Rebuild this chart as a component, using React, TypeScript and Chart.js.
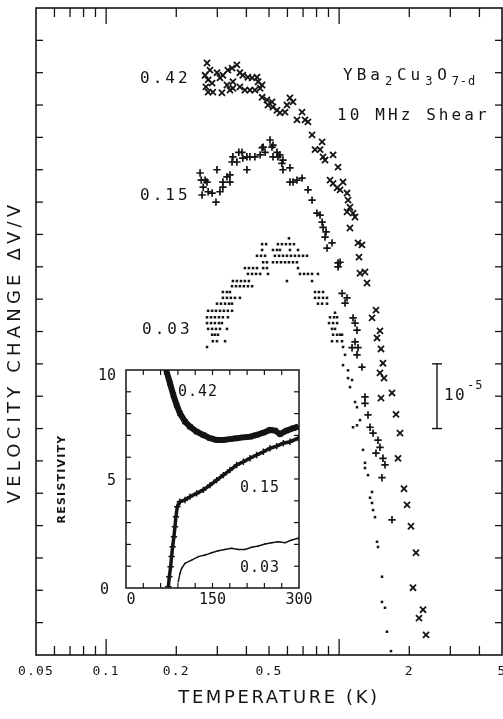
import React, { useEffect, useRef } from 'react';
import { Chart, registerables } from 'chart.js';
Chart.register(...registerables);

const INK = '#141414';
const MONO = '"DejaVu Sans Mono", monospace';
const SANS = '"DejaVu Sans", sans-serif';

// ---- main plot: velocity change (units of 1e-6) vs temperature (K) ----
const series042: [number, number][] = [
  [0.271, 91.5], [0.279, 90.4], [0.266, 89.6], [0.274, 88.9], [0.285, 88.4], [0.268, 87.8], [0.274, 87.0], [0.287, 87.0],
  [0.299, 90.0], [0.308, 89.2], [0.314, 86.9], [0.317, 89.6], [0.330, 88.1], [0.333, 90.4], [0.340, 87.3], [0.347, 90.7],
  [0.350, 88.6], [0.350, 87.6], [0.364, 91.2], [0.375, 90.0], [0.375, 87.8], [0.386, 89.6], [0.394, 87.3], [0.406, 89.3],
  [0.414, 87.3], [0.423, 89.2], [0.435, 87.3], [0.444, 89.3], [0.449, 88.6], [0.458, 87.6], [0.467, 88.1], [0.467, 86.2],
  [0.490, 85.8], [0.495, 85.0], [0.515, 85.5], [0.520, 84.7], [0.541, 84.2], [0.557, 83.8], [0.586, 83.9], [0.597, 85.0],
  [0.615, 86.1], [0.634, 85.5], [0.659, 82.7], [0.693, 83.9], [0.714, 82.7], [0.735, 82.4], [0.765, 80.4], [0.788, 78.1],
  [0.828, 78.1], [0.845, 79.3], [0.853, 77.0], [0.870, 76.5], [0.942, 77.3], [0.989, 75.4], [0.914, 73.4], [0.942, 72.9],
  [0.980, 72.2], [1.009, 71.9], [1.039, 73.1], [1.081, 71.4], [1.092, 70.3], [1.113, 69.2], [1.081, 68.5], [1.147, 68.3],
  [1.170, 67.7], [1.113, 66.0], [1.205, 63.7], [1.253, 63.4], [1.217, 61.5], [1.229, 59.0], [1.291, 59.2], [1.317, 57.5],
  [1.439, 53.3], [1.384, 52.1], [1.497, 50.1], [1.454, 49.0], [1.512, 47.3], [1.542, 45.1], [1.497, 43.6], [1.558, 42.8],
  [1.512, 39.7], [1.686, 40.5], [1.754, 37.2], [1.825, 34.3], [1.789, 30.4], [1.898, 25.7], [1.956, 23.2], [2.034, 19.9],
  [2.137, 15.8], [2.075, 10.4], [2.291, 7.0], [2.202, 5.7], [2.360, 3.1],
];

const series015: [number, number][] = [
  [0.253, 74.5], [0.256, 73.4], [0.261, 72.3], [0.258, 71.1], [0.266, 73.4], [0.271, 73.1], [0.274, 71.6], [0.285, 71.4],
  [0.296, 70.0], [0.299, 75.0], [0.308, 71.6], [0.317, 73.1], [0.317, 72.3], [0.330, 73.9], [0.340, 74.2], [0.340, 73.1],
  [0.347, 76.2], [0.350, 77.0], [0.364, 76.2], [0.371, 77.7], [0.383, 77.7], [0.386, 76.8], [0.402, 75.0], [0.402, 77.0],
  [0.414, 77.0], [0.435, 77.0], [0.458, 77.3], [0.467, 78.4], [0.472, 78.5], [0.481, 77.7], [0.505, 79.6], [0.515, 78.5],
  [0.520, 78.8], [0.520, 77.0], [0.541, 77.7], [0.546, 77.0], [0.557, 77.3], [0.568, 76.0], [0.574, 76.5], [0.574, 75.0],
  [0.615, 75.3], [0.615, 73.1], [0.634, 73.1], [0.659, 73.4], [0.693, 73.7], [0.735, 71.9], [0.765, 70.3], [0.803, 68.3],
  [0.828, 68.0], [0.845, 66.9], [0.853, 66.1], [0.879, 65.4], [0.870, 64.6], [0.932, 63.7], [0.887, 62.9], [0.989, 60.6],
  [1.009, 60.7], [0.989, 60.0], [1.029, 55.9], [1.081, 55.2], [1.060, 54.4], [1.147, 52.1], [1.170, 51.3], [1.193, 50.2],
  [1.170, 48.4], [1.136, 47.5], [1.205, 47.5], [1.193, 46.4], [1.253, 44.5], [1.291, 39.9], [1.291, 38.9], [1.330, 37.1],
  [1.357, 35.2], [1.398, 34.3], [1.468, 33.2], [1.497, 32.1], [1.439, 31.2], [1.542, 30.4], [1.573, 29.4], [1.527, 27.4],
  [1.686, 20.9],
];

const series003: [number, number][] = [
  [0.609, 64.4],
  [0.467, 63.5], [0.486, 63.5], [0.546, 63.5], [0.568, 63.5], [0.591, 63.5], [0.615, 63.5], [0.640, 63.5],
  [0.467, 62.6], [0.520, 62.6], [0.541, 62.6], [0.557, 62.6], [0.615, 62.6], [0.666, 62.6],
  [0.444, 61.7], [0.462, 61.7], [0.481, 61.7], [0.530, 61.7], [0.552, 61.7], [0.574, 61.7], [0.597, 61.7], [0.621, 61.7],
  [0.646, 61.7], [0.672, 61.7], [0.700, 61.7], [0.728, 61.7],
  [0.472, 60.7], [0.490, 60.7], [0.520, 60.7], [0.541, 60.7], [0.563, 60.7], [0.586, 60.7], [0.609, 60.7], [0.634, 60.7], [0.659, 60.7],
  [0.394, 59.8], [0.410, 59.8], [0.427, 59.8], [0.444, 59.8], [0.472, 59.8], [0.490, 59.8], [0.666, 59.8],
  [0.406, 58.9], [0.423, 58.9], [0.440, 58.9], [0.458, 58.9], [0.495, 58.9], [0.679, 58.9], [0.707, 58.9], [0.735, 58.9],
  [0.765, 58.9], [0.811, 58.9],
  [0.350, 57.8], [0.364, 57.8], [0.379, 57.8], [0.394, 57.8], [0.410, 57.8], [0.597, 57.8], [0.765, 57.8],
  [0.347, 57.0], [0.361, 57.0], [0.375, 57.0], [0.390, 57.0], [0.406, 57.0], [0.423, 57.0],
  [0.317, 56.1], [0.330, 56.1], [0.340, 56.1], [0.788, 56.1], [0.819, 56.1], [0.853, 56.1],
  [0.317, 55.2], [0.330, 55.2], [0.343, 55.2], [0.357, 55.2], [0.375, 55.2], [0.788, 55.2], [0.819, 55.2], [0.853, 55.2], [0.887, 55.2],
  [0.299, 54.3], [0.311, 54.3], [0.324, 54.3], [0.337, 54.3], [0.347, 54.3], [0.811, 54.3], [0.845, 54.3], [0.887, 54.3],
  [0.274, 53.2], [0.285, 53.2], [0.296, 53.2], [0.308, 53.2], [0.320, 53.2], [0.333, 53.2], [0.347, 53.2],
  [0.271, 52.2], [0.282, 52.2], [0.293, 52.2], [0.305, 52.2], [0.317, 52.2], [0.333, 52.2], [0.914, 52.2], [0.951, 52.2], [0.980, 52.2],
  [0.271, 51.3], [0.282, 51.3], [0.293, 51.3], [0.305, 51.3], [0.314, 51.3], [0.905, 51.3], [0.942, 51.3], [0.980, 51.3],
  [0.274, 50.4], [0.285, 50.4], [0.296, 50.4], [0.308, 50.4], [0.330, 50.4], [0.932, 50.4], [0.960, 50.4],
  [0.285, 49.5], [0.293, 49.5], [0.302, 49.5], [0.942, 49.5], [0.980, 49.5], [1.029, 49.5],
  [0.287, 48.5], [0.299, 48.5], [0.324, 48.5], [0.932, 48.5], [0.980, 48.5], [1.029, 48.5],
  [0.271, 47.6],
  [0.960, 52.9], [1.009, 49.5], [1.039, 47.6], [1.060, 46.4], [1.039, 44.8], [1.092, 44.0], [1.092, 42.8], [1.136, 42.5],
  [1.113, 41.4], [1.170, 39.1], [1.193, 38.3], [1.229, 36.3], [1.193, 35.5], [1.147, 35.2], [1.266, 31.7], [1.291, 29.7],
  [1.291, 28.9], [1.330, 27.8], [1.384, 25.2], [1.357, 24.3], [1.384, 23.5], [1.398, 22.4], [1.425, 21.3], [1.454, 17.5],
  [1.468, 16.7], [1.527, 12.1], [1.527, 8.2], [1.573, 7.3], [1.604, 3.6], [1.669, 0.6],
];

// ---- inset: resistivity vs temperature (K) ----
const inset042: [number, number][] = [
  [69.0, 10.2], [70.5, 9.92], [76.3, 9.39], [82.1, 8.85], [87.9, 8.39], [93.6, 8.01], [102.3, 7.63], [111.0, 7.40],
  [122.5, 7.17], [134.1, 7.02], [145.7, 6.87], [157.2, 6.79], [168.8, 6.79], [180.3, 6.83], [191.9, 6.87], [203.5, 6.91],
  [215.0, 6.94], [226.6, 7.02], [238.2, 7.12], [249.7, 7.25], [258.4, 7.22], [267.1, 7.06], [278.6, 7.22], [290.2, 7.33],
  [298.9, 7.40],
];
const inset015: [number, number][] = [
  [73.4, 0.06], [75.1, 0.52], [77.4, 0.98], [79.1, 1.44], [80.8, 1.89], [83.1, 2.35], [84.9, 2.81], [86.6, 3.27],
  [88.9, 3.73], [93.5, 3.96], [102.3, 4.04], [111.0, 4.19], [122.5, 4.34], [134.1, 4.50], [145.7, 4.72], [157.2, 4.95],
  [168.8, 5.18], [180.3, 5.41], [191.9, 5.64], [203.5, 5.79], [215.0, 5.95], [226.6, 6.10], [238.2, 6.25], [249.7, 6.41],
  [261.3, 6.51], [272.8, 6.64], [284.4, 6.71], [298.9, 6.87],
];
const inset003: [number, number][] = [
  [90.7, 0.29], [93.6, 0.67], [96.5, 0.90], [102.3, 1.13], [113.8, 1.28], [125.4, 1.44], [137.0, 1.51], [148.5, 1.62],
  [160.1, 1.71], [171.7, 1.77], [183.2, 1.82], [194.8, 1.77], [206.4, 1.77], [217.9, 1.87], [229.5, 1.93], [241.1, 2.02],
  [252.6, 2.08], [264.2, 2.12], [275.8, 2.08], [287.3, 2.20], [298.9, 2.28],
];

// ---- axes / labels ----
const xLabelValues = [0.05, 0.1, 0.2, 0.5, 2, 5];
const xLabelTexts = ['0.05', '0.1', '0.2', '0.5', '2', '5'];
const xMinorTicks = [0.06, 0.07, 0.08, 0.09, 0.2, 0.3, 0.4, 0.5, 0.6, 0.7, 0.8, 0.9, 2, 3, 4];
const xMajorTicks = [0.1, 1];
const yTickValues = [5, 10, 15, 20, 25, 30, 35, 40, 45, 50, 55, 60, 65, 70, 75, 80, 85, 90, 95];
const seriesNames = ['0.42', '0.15', '0.03'];
const scaleBar = { t: 2.63, from: 35, to: 45 };

const insetXTicks = [30, 60, 90, 120, 150, 180, 210, 240, 270];
const insetYTicks = [1, 2, 3, 4, 5, 6, 7, 8, 9];
const insetXLabels = [0, 150, 300];
const insetYLabels = [0, 5, 10];

const xy = (arr: [number, number][]) => arr.map(([x, y]) => ({ x, y }));

function txt(ctx: CanvasRenderingContext2D, s: string, x: number, y: number, font: string,
  align: CanvasTextAlign = 'left', spacing = 0) {
  ctx.font = font;
  ctx.textAlign = align;
  ctx.textBaseline = 'middle';
  (ctx as any).letterSpacing = spacing + 'px';
  ctx.fillText(s, x, y);
  (ctx as any).letterSpacing = '0px';
}
function seg(ctx: CanvasRenderingContext2D, x1: number, y1: number, x2: number, y2: number) {
  ctx.beginPath();
  ctx.moveTo(x1, y1);
  ctx.lineTo(x2, y2);
  ctx.stroke();
}

const mainDecor = {
  id: 'mainDecor',
  afterDatasetsDraw(chart: any) {
    const { ctx, chartArea: a, scales } = chart;
    const x = scales.x, y = scales.y;
    ctx.save();
    ctx.strokeStyle = INK;
    ctx.fillStyle = INK;
    ctx.lineWidth = 1.6;
    ctx.strokeRect(a.left, a.top, a.right - a.left, a.bottom - a.top);
    ctx.lineWidth = 1.3;
    for (const t of xMinorTicks) {
      const p = x.getPixelForValue(t);
      seg(ctx, p, a.bottom, p, a.bottom - 9);
      seg(ctx, p, a.top, p, a.top + 9);
    }
    for (const t of xMajorTicks) {
      const p = x.getPixelForValue(t);
      seg(ctx, p, a.bottom, p, a.bottom - 16);
      seg(ctx, p, a.top, p, a.top + 16);
    }
    for (const v of yTickValues) {
      const p = y.getPixelForValue(v);
      seg(ctx, a.left, p, a.left + 7, p);
      seg(ctx, a.right, p, a.right - 7, p);
    }
    // x tick labels
    xLabelValues.forEach((v, i) => {
      txt(ctx, xLabelTexts[i], x.getPixelForValue(v), a.bottom + 17, '13px ' + MONO, 'center', 1.2);
    });
    // axis titles
    txt(ctx, 'TEMPERATURE (K)', 279, a.bottom + 43, '18px ' + SANS, 'center', 2.6);
    ctx.save();
    ctx.translate(15, 352);
    ctx.rotate(-Math.PI / 2);
    txt(ctx, 'VELOCITY CHANGE \u0394V/V', 0, 0, '18px ' + SANS, 'center', 4.2);
    ctx.restore();
    // series labels
    const lab = '16px ' + MONO;
    txt(ctx, seriesNames[0], 140, y.getPixelForValue(89), lab, 'left', 3);
    txt(ctx, seriesNames[1], 140, y.getPixelForValue(71), lab, 'left', 3);
    txt(ctx, seriesNames[2], 142, y.getPixelForValue(50.2), lab, 'left', 3);
    // compound
    let cx = 343;
    const cy = 76;
    const parts: [string, boolean][] = [['YBa', false], ['2', true], ['Cu', false], ['3', true], ['O', false], ['7-d', true]];
    for (const [s, sub] of parts) {
      const f = sub ? '12px ' + MONO : '16px ' + MONO;
      const sp = sub ? 0.8 : 4;
      ctx.font = f;
      (ctx as any).letterSpacing = sp + 'px';
      const w = ctx.measureText(s).width;
      txt(ctx, s, cx + (sub ? 1 : 0), sub ? cy + 6 : cy, f, 'left', sp);
      cx += w + (sub ? 5 : 0);
    }
    txt(ctx, '10 MHz Shear', 337, 116, lab, 'left', 3.1);
    // scale bar
    const bx = x.getPixelForValue(scaleBar.t);
    const b1 = y.getPixelForValue(scaleBar.from), b2 = y.getPixelForValue(scaleBar.to);
    ctx.lineWidth = 1.4;
    seg(ctx, bx, b1, bx, b2);
    seg(ctx, bx - 5, b1, bx + 5, b1);
    seg(ctx, bx - 5, b2, bx + 5, b2);
    txt(ctx, '10', bx + 7, (b1 + b2) / 2, lab, 'left', 1.5);
    txt(ctx, '-5', bx + 30, (b1 + b2) / 2 - 10, '12px ' + MONO, 'left', 1);
    ctx.restore();
  },
};

const insetDecor = {
  id: 'insetDecor',
  beforeDatasetsDraw(chart: any) {
    const { ctx, chartArea: a } = chart;
    ctx.save();
    ctx.fillStyle = '#ffffff';
    ctx.fillRect(a.left, a.top, a.right - a.left, a.bottom - a.top);
    ctx.restore();
  },
  afterDatasetsDraw(chart: any) {
    const { ctx, chartArea: a, scales } = chart;
    const x = scales.x, y = scales.y;
    ctx.save();
    ctx.strokeStyle = INK;
    ctx.fillStyle = INK;
    ctx.lineWidth = 1.5;
    ctx.strokeRect(a.left, a.top, a.right - a.left, a.bottom - a.top);
    ctx.lineWidth = 1.2;
    for (const t of insetXTicks) {
      const p = x.getPixelForValue(t);
      seg(ctx, p, a.bottom, p, a.bottom - 5);
      seg(ctx, p, a.top, p, a.top + 5);
    }
    for (const v of insetYTicks) {
      const p = y.getPixelForValue(v);
      seg(ctx, a.left, p, a.left + 5, p);
      seg(ctx, a.right, p, a.right - 5, p);
    }
    const f = '15px ' + MONO;
    insetXLabels.forEach((v) => {
      const p = x.getPixelForValue(v);
      txt(ctx, String(v), v === 0 ? p + 5 : p, a.bottom + 12, f, 'center', 0);
    });
    insetYLabels.forEach((v) => {
      const p = y.getPixelForValue(v);
      const dy = v === 10 ? 6 : 2;
      txt(ctx, String(v), v === 0 ? a.left - 17 : a.left - 10, p + dy, f, 'right', 0);
    });
    ctx.save();
    ctx.translate(22, (a.top + a.bottom) / 2);
    ctx.rotate(-Math.PI / 2);
    txt(ctx, 'RESISTIVITY', 0, 0, 'bold 11px ' + SANS, 'center', 1.2);
    ctx.restore();
    txt(ctx, seriesNames[0], a.left + 52, y.getPixelForValue(9.0), f, 'left', 1);
    txt(ctx, seriesNames[1], a.left + 114, y.getPixelForValue(4.6), f, 'left', 1);
    txt(ctx, seriesNames[2], a.left + 114, y.getPixelForValue(0.9), f, 'left', 1);
    ctx.restore();
  },
};

export default function App() {
  const mainRef = useRef<HTMLCanvasElement>(null);
  const insetRef = useRef<HTMLCanvasElement>(null);

  useEffect(() => {
    const common = {
      responsive: false,
      animation: false as const,
      devicePixelRatio: 1,
      events: [] as any[],
      plugins: { legend: { display: false }, tooltip: { enabled: false } },
    };
    const main = new Chart(mainRef.current!, {
      type: 'scatter',
      data: {
        datasets: [
          { label: seriesNames[0], data: xy(series042), pointStyle: 'crossRot', pointRadius: 4.3, borderColor: INK, backgroundColor: INK, borderWidth: 1.8 },
          { label: seriesNames[1], data: xy(series015), pointStyle: 'cross', pointRadius: 3.7, borderColor: INK, backgroundColor: INK, borderWidth: 1.7 },
          { label: seriesNames[2], data: xy(series003), pointStyle: 'rect', pointRadius: 1.8, borderColor: INK, backgroundColor: INK, borderWidth: 0 },
        ],
      },
      options: {
        ...common,
        layout: { autoPadding: false, padding: { left: 36, top: 8, right: 1, bottom: 64 } },
        scales: {
          x: { type: 'logarithmic', min: 0.05, max: 5, display: false },
          y: { type: 'linear', min: 0, max: 100, display: false },
        },
      },
      plugins: [mainDecor],
    } as any);

    const inset = new Chart(insetRef.current!, {
      type: 'scatter',
      data: {
        datasets: [
          { label: seriesNames[0], data: xy(inset042), showLine: true, borderColor: INK, backgroundColor: INK, borderWidth: 6, pointStyle: 'crossRot', pointRadius: 3.5, pointBorderWidth: 1.5 },
          { label: seriesNames[1], data: xy(inset015), showLine: true, borderColor: INK, backgroundColor: INK, borderWidth: 3.5, pointStyle: 'cross', pointRadius: 3.2, pointBorderWidth: 1.5 },
          { label: seriesNames[2], data: xy(inset003), showLine: true, borderColor: INK, backgroundColor: INK, borderWidth: 1.5, pointStyle: 'rect', pointRadius: 1, pointBorderWidth: 0 },
        ],
      },
      options: {
        ...common,
        layout: { autoPadding: false, padding: { left: 86, top: 10, right: 21, bottom: 27 } },
        scales: {
          x: { type: 'linear', min: 0, max: 300, display: false },
          y: { type: 'linear', min: 0, max: 10, display: false },
        },
      },
      plugins: [insetDecor],
    } as any);

    return () => {
      main.destroy();
      inset.destroy();
    };
  }, []);

  return (
    <div style={{ position: 'absolute', left: 0, top: 0, width: 503, height: 719, background: '#ffffff' }}>
      <canvas ref={mainRef} width={503} height={719} style={{ position: 'absolute', left: 0, top: 0 }} />
      <canvas ref={insetRef} width={280} height={255} style={{ position: 'absolute', left: 40, top: 360 }} />
    </div>
  );
}
